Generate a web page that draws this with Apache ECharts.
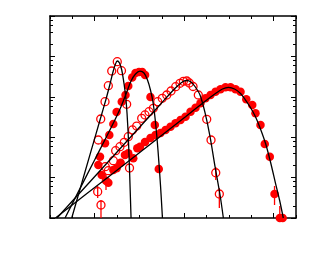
<!DOCTYPE html>
<html>
<head>
<meta charset="utf-8">
<script src="https://cdn.jsdelivr.net/npm/echarts@6/dist/echarts.min.js"></script>
<style>html,body{margin:0;padding:0;background:#fff}#c{width:313px;height:263px}</style>
</head>
<body>
<div id="c"></div>
<script>
// ---- data (x, y) ----
var xMinorTicks = [0.5,0.75,1,1.25,1.5,1.75,2,2.25,2.5,2.75,3,3.25];
var xMajorTicks = [1, 2, 3];
var yMajorTicks = [1, 10, 100, 1000, 10000, 100000];
var yMinorTicks = [2,4,6,8,20,40,60,80,200,400,600,800,2000,4000,6000,8000,20000,40000,60000,80000];

var s1Open = [[1.040,85.3],[1.067,282],[1.115,757],[1.152,1883],[1.190,4352],[1.252,7396],[1.299,4426],[1.357,652],[1.389,17.3]];
var s2Filled = [[1.040,20.5],[1.059,32.9],[1.115,70.6],[1.163,113],[1.208,212],[1.245,421],[1.302,757],[1.344,1109],[1.375,1850],[1.419,3006],[1.456,3882],[1.495,4111],[1.531,4111],[1.563,3467],[1.623,988],[1.672,200],[1.716,16.3]];
var s3Open = [[1.033,4.48],[1.070,2.10],[1.118,18.6],[1.152,14.8],[1.208,26.2],[1.234,46.3],[1.282,58.2],[1.330,74.8],[1.375,103],[1.422,151],[1.469,189],[1.525,294],[1.562,355],[1.607,428],[1.655,519],[1.704,757],[1.755,918],[1.805,1109],[1.853,1393],[1.905,1778],[1.953,2158],[1.991,2419],[2.029,2460],[2.057,2197],[2.099,1799],[2.158,1109],[2.252,277],[2.300,85.3],[2.353,13.2],[2.393,3.93]];
var s4Filled = [[1.078,11.6],[1.126,8.38],[1.152,7.48],[1.208,15.4],[1.245,17.0],[1.290,23.4],[1.338,36.3],[1.375,39.9],[1.431,30.0],[1.476,53.1],[1.506,58.2],[1.562,76.1],[1.623,95.5],[1.679,113],[1.735,127],[1.791,151],[1.847,182],[1.903,221],[1.959,267],[2.015,321],[2.071,428],[2.127,537],[2.182,690],[2.238,918],[2.294,1109],[2.350,1337],[2.406,1535],[2.462,1718],[2.518,1718],[2.574,1535],[2.630,1337],[2.694,867],[2.761,627],[2.797,391],[2.853,200],[2.901,67.9],[2.957,32.9],[3.010,3.93],[3.069,1],[3.101,1]];

// error bars: [x, low, high]
var errBars = [[1.070,1,2.79],[1.033,3.13,6.2],[1.126,4.93,12.3],[2.353,8.72,18.3],[2.393,1.77,5.53],[3.010,2.10,6.2],[3.069,1,1.98]];

// fit curves
var fit1 = [[0.743,1],[0.835,5.13],[0.947,36.9],[1.059,267],[1.126,872],[1.171,2073],[1.204,4111],[1.232,6486],[1.252,7691],[1.277,6871],[1.302,4607],[1.328,2073],[1.350,833],[1.372,151],[1.389,15.4],[1.406,1]];
var fit2 = [[0.668,1],[0.835,5.34],[1.003,28.5],[1.171,152.5],[1.283,499],[1.350,1173],[1.406,2460],[1.456,3666],[1.506,4303],[1.551,3882],[1.590,2606],[1.623,1473],[1.651,743],[1.679,238],[1.707,48.2],[1.735,6.56],[1.757,1]];
var fit3 = [[0.578,1],[0.891,5.79],[1.171,27.7],[1.450,133],[1.730,637],[1.864,1352],[1.931,1905],[1.987,2392],[2.031,2531],[2.076,2324],[2.121,1799],[2.177,1109],[2.233,404],[2.289,103],[2.345,18.6],[2.401,3.71],[2.438,1]];
var fit4 = [[0.561,1],[0.891,3.71],[1.456,34.6],[2.015,321],[2.238,787],[2.350,1207],[2.428,1560],[2.495,1718],[2.563,1560],[2.630,1207],[2.686,833],[2.741,543],[2.797,321],[2.853,160],[2.909,70.6],[2.965,24.3],[3.021,7.22],[3.066,2.79],[3.108,1]];

var RED = '#ff0000';
var chart = echarts.init(document.getElementById('c'), null, {renderer: 'canvas'});

function xAx(pos, ticks, len, showLine) {
  return {
    type: 'value', position: pos, min: 0.5, max: 3.25,
    axisLine: {show: showLine, onZero: false, lineStyle: {color: '#000', width: 1.5}},
    axisTick: {show: true, inside: true, length: len, customValues: ticks, lineStyle: {color: '#000', width: 1}},
    axisLabel: {show: false}, splitLine: {show: false}
  };
}
function yAx(pos, ticks, len, showLine) {
  return {
    type: 'log', logBase: 10, position: pos, min: 1, max: 100000,
    axisLine: {show: showLine, onZero: false, lineStyle: {color: '#000', width: 1.5}},
    axisTick: {show: true, inside: true, length: len, customValues: ticks, lineStyle: {color: '#000', width: 1}},
    axisLabel: {show: false}, splitLine: {show: false}, minorTick: {show: false}
  };
}

function lineSeries(d) {
  return {type: 'line', data: d, xAxisIndex: 0, yAxisIndex: 0, showSymbol: false, symbol: 'none',
    smooth: 0.3, lineStyle: {color: '#000', width: 1.3}, z: 4, silent: true, animation: false, clip: true};
}
function openSeries(d) {
  return {type: 'scatter', data: d, xAxisIndex: 0, yAxisIndex: 0, symbol: 'circle', symbolSize: 8,
    itemStyle: {color: 'rgba(255,255,255,0)', borderColor: RED, borderWidth: 1.3, opacity: 1}, z: 3, animation: false};
}
function filledSeries(d) {
  return {type: 'scatter', data: d, xAxisIndex: 0, yAxisIndex: 0, symbol: 'circle', symbolSize: 8.5,
    itemStyle: {color: RED, opacity: 1}, z: 3, animation: false};
}

chart.setOption({
  backgroundColor: '#fff',
  animation: false,
  grid: {left: 50, top: 16, width: 246, height: 202, containLabel: false},
  xAxis: [
    xAx('bottom', xMinorTicks, 3, true),
    xAx('bottom', xMajorTicks, 5, false),
    xAx('top', xMinorTicks, 3, true),
    xAx('top', xMajorTicks, 5, false)
  ],
  yAxis: [
    yAx('left', yMinorTicks, 3, true),
    yAx('left', yMajorTicks, 5, false),
    yAx('right', yMinorTicks, 3, true),
    yAx('right', yMajorTicks, 5, false)
  ],
  series: [
    {
      type: 'custom', xAxisIndex: 0, yAxisIndex: 0, data: errBars, z: 2, animation: false,
      renderItem: function (params, api) {
        var p1 = api.coord([api.value(0), api.value(1)]);
        var p2 = api.coord([api.value(0), api.value(2)]);
        return {type: 'line', shape: {x1: p1[0], y1: p1[1], x2: p2[0], y2: p2[1]},
          style: {stroke: RED, lineWidth: 1.3}};
      }
    },
    filledSeries(s2Filled),
    filledSeries(s4Filled),
    openSeries(s1Open),
    openSeries(s3Open),
    lineSeries(fit1),
    lineSeries(fit2),
    lineSeries(fit3),
    lineSeries(fit4)
  ]
});
</script>
</body>
</html>
